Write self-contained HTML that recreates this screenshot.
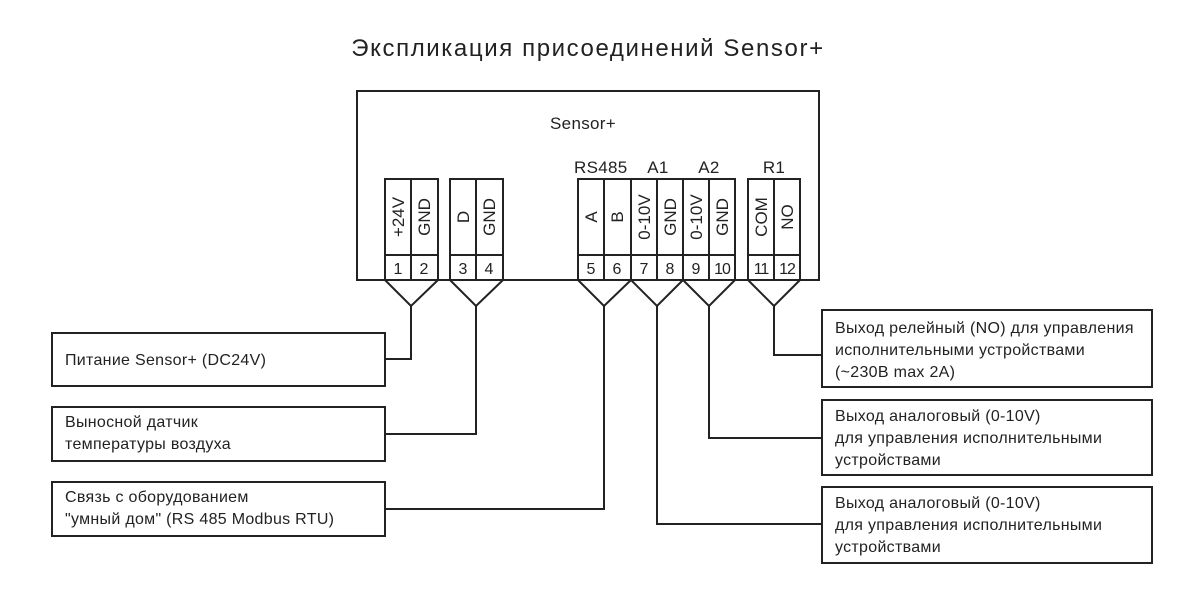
<!DOCTYPE html>
<html><head><meta charset="utf-8"><style>
body{margin:0;background:#fff;}
svg{display:block;font-family:"Liberation Sans","DejaVu Sans",sans-serif;}
</style></head><body>
<svg width="1201" height="601" viewBox="0 0 1201 601" xmlns="http://www.w3.org/2000/svg">
<g fill="none" stroke="#222" stroke-width="2">
<rect x="357" y="91" width="462" height="189" fill="#fff"/>
<rect x="385" y="179" width="53" height="101" fill="#fff"/><line x1="411" y1="179" x2="411" y2="280"/><line x1="385" y1="255" x2="438" y2="255"/>
<rect x="450" y="179" width="53" height="101" fill="#fff"/><line x1="476" y1="179" x2="476" y2="280"/><line x1="450" y1="255" x2="503" y2="255"/>
<rect x="578" y="179" width="157" height="101" fill="#fff"/>
<line x1="604" y1="179" x2="604" y2="280"/><line x1="631" y1="179" x2="631" y2="280"/><line x1="657" y1="179" x2="657" y2="280"/><line x1="683" y1="179" x2="683" y2="280"/><line x1="709" y1="179" x2="709" y2="280"/>
<line x1="578" y1="255" x2="735" y2="255"/>
<rect x="748" y="179" width="52" height="101" fill="#fff"/><line x1="774" y1="179" x2="774" y2="280"/><line x1="748" y1="255" x2="800" y2="255"/>
<polyline points="385,280 411,306 438,280"/>
<polyline points="450,280 476,306 503,280"/>
<polyline points="578,280 604,306 631,280"/>
<polyline points="631,280 657,306 683,280"/>
<polyline points="683,280 709,306 735,280"/>
<polyline points="748,280 774,306 800,280"/>
<polyline points="411,306 411,359 385,359"/>
<polyline points="476,306 476,434 385,434"/>
<polyline points="604,306 604,509 385,509"/>
<polyline points="774,306 774,355 822,355"/>
<polyline points="709,306 709,438 822,438"/>
<polyline points="657,306 657,524 822,524"/>
<rect x="52" y="333" width="333" height="53"/>
<rect x="52" y="407" width="333" height="54"/>
<rect x="52" y="482" width="333" height="54"/>
<rect x="822" y="310" width="330" height="77"/>
<rect x="822" y="400" width="330" height="75"/>
<rect x="822" y="487" width="330" height="76"/>
</g>
<g fill="#222" font-size="16" letter-spacing="0.3">
<text x="588" y="56" font-size="24" letter-spacing="1.6" text-anchor="middle">Экспликация присоединений Sensor+</text>
<text x="583" y="129" font-size="17" text-anchor="middle">Sensor+</text>
<text x="574" y="173" font-size="17">RS485</text>
<text x="658" y="173" font-size="17" text-anchor="middle">A1</text>
<text x="709" y="173" font-size="17" text-anchor="middle">A2</text>
<text x="774" y="173" font-size="17" text-anchor="middle">R1</text>
<g font-size="16" text-anchor="middle" letter-spacing="0">
<text x="398" y="274">1</text><text x="424" y="274">2</text>
<text x="463" y="274">3</text><text x="489" y="274">4</text>
<text x="591" y="274">5</text><text x="617" y="274">6</text><text x="644" y="274">7</text><text x="670" y="274">8</text><text x="696" y="274">9</text><text x="722" y="274" letter-spacing="-1">10</text>
<text x="761" y="274" letter-spacing="-1">11</text><text x="787" y="274" letter-spacing="-1">12</text>
</g>
<g font-size="17" text-anchor="middle" letter-spacing="0">
<text transform="translate(404,217) rotate(-90)">+24V</text>
<text transform="translate(430,217) rotate(-90)">GND</text>
<text transform="translate(469,217) rotate(-90)">D</text>
<text transform="translate(495,217) rotate(-90)">GND</text>
<text transform="translate(597,217) rotate(-90)">A</text>
<text transform="translate(623,217) rotate(-90)">B</text>
<text transform="translate(650,217) rotate(-90)">0-10V</text>
<text transform="translate(676,217) rotate(-90)">GND</text>
<text transform="translate(702,217) rotate(-90)">0-10V</text>
<text transform="translate(728,217) rotate(-90)">GND</text>
<text transform="translate(767,217) rotate(-90)">COM</text>
<text transform="translate(793,217) rotate(-90)">NO</text>
</g>
<text x="65" y="365">Питание Sensor+  (DC24V)</text>
<text x="65" y="427">Выносной датчик</text>
<text x="65" y="449">температуры воздуха</text>
<text x="65" y="502">Связь с оборудованием</text>
<text x="65" y="524">"умный дом" (RS 485 Modbus RTU)</text>
<text x="835" y="333">Выход релейный (NO) для управления</text>
<text x="835" y="355">исполнительными устройствами</text>
<text x="835" y="377">(~230В max 2A)</text>
<text x="835" y="421">Выход аналоговый (0-10V)</text>
<text x="835" y="443">для управления исполнительными</text>
<text x="835" y="465">устройствами</text>
<text x="835" y="508">Выход аналоговый (0-10V)</text>
<text x="835" y="530">для управления исполнительными</text>
<text x="835" y="552">устройствами</text>
</g>
</svg>
</body></html>
